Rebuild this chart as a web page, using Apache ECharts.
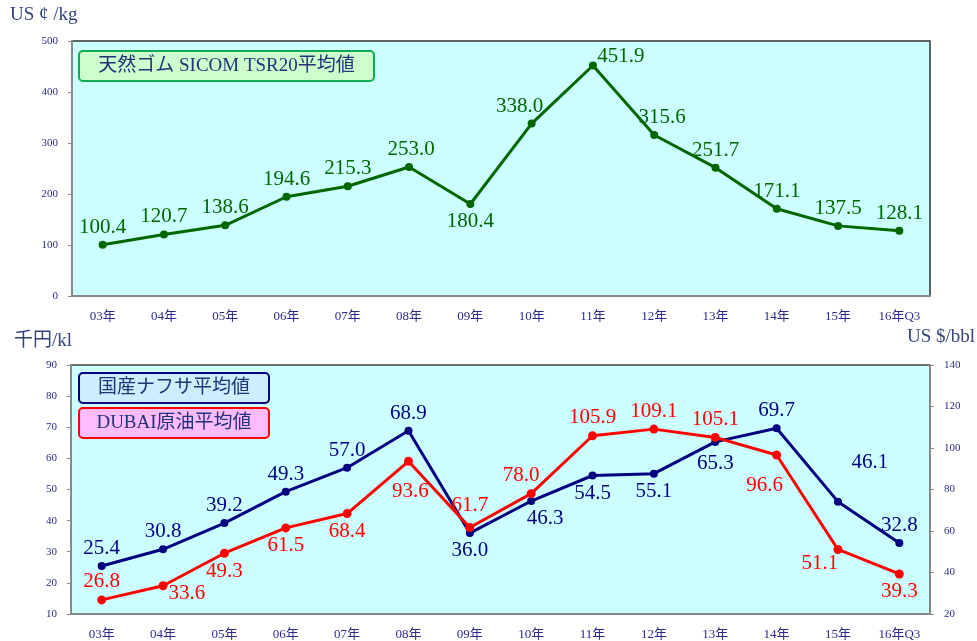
<!DOCTYPE html>
<html>
<head>
<meta charset="utf-8">
<script src="https://cdn.jsdelivr.net/npm/echarts@6/dist/echarts.min.js"></script>
<style>html,body{margin:0;padding:0;background:#fff}#c{width:977px;height:641px}</style>
</head>
<body>
<div id="c"></div>
<script>
// ---- data ----
var categories = ['03年','04年','05年','06年','07年','08年','09年','10年','11年','12年','13年','14年','15年','16年Q3'];
var rubberValues = [100.4,120.7,138.6,194.6,215.3,253.0,180.4,338.0,451.9,315.6,251.7,171.1,137.5,128.1];
var naphthaValues = [25.4,30.8,39.2,49.3,57.0,68.9,36.0,46.3,54.5,55.1,65.3,69.7,46.1,32.8];
var dubaiValues = [26.8,33.6,49.3,61.5,68.4,93.6,61.7,78.0,105.9,109.1,105.1,96.6,51.1,39.3];
var rubberName = '天然ゴム SICOM TSR20平均値';
var naphthaName = '国産ナフサ平均値';
var dubaiName = 'DUBAI原油平均値';

// ---- label placement (style only) ----
var rubberPos = [['top',[0,0]],['top',[0,0]],['top',[0,0]],['top',[0,0]],['top',[0,0]],['top',[2,0]],['bottom',[0,0]],['top',[-12,0]],['top',[28,8]],['top',[8,0]],['top',[0,0]],['top',[0,0]],['top',[0,0]],['top',[0,0]]];
var naphthaPos = [['top',[0,0]],['top',[0,0]],['top',[0,0]],['top',[0,0]],['top',[0,0]],['top',[0,0]],['bottom',[0,0]],['bottom',[14,0]],['bottom',[0,0]],['bottom',[0,0]],['bottom',[0,4]],['top',[0,0]],['top',[32,-22]],['top',[0,0]]];
var dubaiPos = [['top',[0,0]],['right',[-2,8]],['bottom',[0,0]],['bottom',[0,0]],['bottom',[0,0]],['bottom',[2,12]],['top',[0,-4]],['top',[-10,0]],['top',[0,0]],['top',[0,0]],['top',[0,0]],['bottom',[-12,12]],['bottom',[-18,-4]],['bottom',[0,0]]];

var SERIF = "'Liberation Serif','Times New Roman','Noto Sans CJK JP',serif";
var AXCOL = '#2a2a8c';

function mk(values, pos) {
  return values.map(function (v, i) {
    return { value: v, label: { position: pos[i][0], offset: pos[i][1] } };
  });
}

var chart = echarts.init(document.getElementById('c'));

function xAx(gi) {
  return {
    type: 'category', gridIndex: gi, data: categories, boundaryGap: true,
    axisLine: { lineStyle: { color: '#888', width: 2 } },
    axisTick: { inside: true, length: 5, lineStyle: { color: '#888', width: 1.5 } },
    axisLabel: { color: AXCOL, fontFamily: SERIF, fontSize: 13, margin: 14 }
  };
}
function yAx(gi, min, max, itv, pos) {
  return {
    type: 'value', gridIndex: gi, min: min, max: max, interval: itv, position: pos || 'left',
    axisLine: { show: true, lineStyle: { color: '#888', width: 2 } },
    axisTick: { show: true, length: 4, lineStyle: { color: '#888' } },
    splitLine: { show: false },
    axisLabel: { color: AXCOL, fontFamily: SERIF, fontSize: 11, margin: 14 }
  };
}

function legendBox(x, y, w, h, fill, stroke, text) {
  return {
    type: 'group', left: x, top: y,
    children: [
      { type: 'rect', shape: { x: 0, y: 0, width: w, height: h, r: 4 },
        style: { fill: fill, stroke: stroke, lineWidth: 2 } },
      { type: 'text', x: w / 2, y: h / 2,
        style: { text: text, fill: '#223377', font: '19px ' + SERIF, align: 'center', verticalAlign: 'middle' } }
    ]
  };
}

var option = {
  animation: false,
  backgroundColor: '#ffffff',
  grid: [
    { left: 72, right: 47, top: 41, height: 255, show: true, backgroundColor: '#ccffff', borderColor: '#333', borderWidth: 1.5 },
    { left: 71, right: 47, top: 365, height: 249, show: true, backgroundColor: '#ccffff', borderColor: '#444', borderWidth: 1.5 }
  ],
  xAxis: [xAx(0), xAx(1)],
  yAxis: [
    yAx(0, 0, 500, 100),
    yAx(1, 10, 90, 10),
    yAx(1, 20, 140, 20, 'right')
  ],
  graphic: [
    { type: 'text', left: 10, top: 6, style: { text: 'US ¢ /kg', fill: '#334477', font: '19px ' + SERIF } },
    { type: 'text', left: 14, top: 332, style: { text: '千円/kl', fill: '#334477', font: '19px ' + SERIF } },
    { type: 'text', right: 2, top: 328, style: { text: 'US $/bbl', fill: '#334477', font: '19px ' + SERIF } },
    legendBox(78, 50, 295, 30, '#ccffcc', '#11aa55', rubberName),
    legendBox(78, 372, 190, 30, '#cceeff', '#000080', naphthaName),
    legendBox(78, 407, 190, 30, '#ffbbff', '#ff0000', dubaiName)
  ],
  series: [
    {
      name: rubberName, type: 'line', xAxisIndex: 0, yAxisIndex: 0,
      data: mk(rubberValues, rubberPos),
      symbol: 'circle', symbolSize: 8,
      lineStyle: { color: '#006600', width: 3 }, itemStyle: { color: '#006600' },
      label: { show: true, color: '#006600', fontFamily: SERIF, fontSize: 21, distance: 3,
        formatter: function (p) { return p.value.toFixed(1); } }
    },
    {
      name: naphthaName, type: 'line', xAxisIndex: 1, yAxisIndex: 1,
      data: mk(naphthaValues, naphthaPos),
      symbol: 'circle', symbolSize: 8,
      lineStyle: { color: '#000080', width: 3 }, itemStyle: { color: '#000080' },
      label: { show: true, color: '#000080', fontFamily: SERIF, fontSize: 21, distance: 3,
        formatter: function (p) { return p.value.toFixed(1); } }
    },
    {
      name: dubaiName, type: 'line', xAxisIndex: 1, yAxisIndex: 2,
      data: mk(dubaiValues, dubaiPos),
      symbol: 'circle', symbolSize: 9,
      lineStyle: { color: '#ff0000', width: 3 }, itemStyle: { color: '#ff0000' },
      label: { show: true, color: '#ff0000', fontFamily: SERIF, fontSize: 21, distance: 3,
        formatter: function (p) { return p.value.toFixed(1); } }
    }
  ]
};
chart.setOption(option);
</script>
</body>
</html>
